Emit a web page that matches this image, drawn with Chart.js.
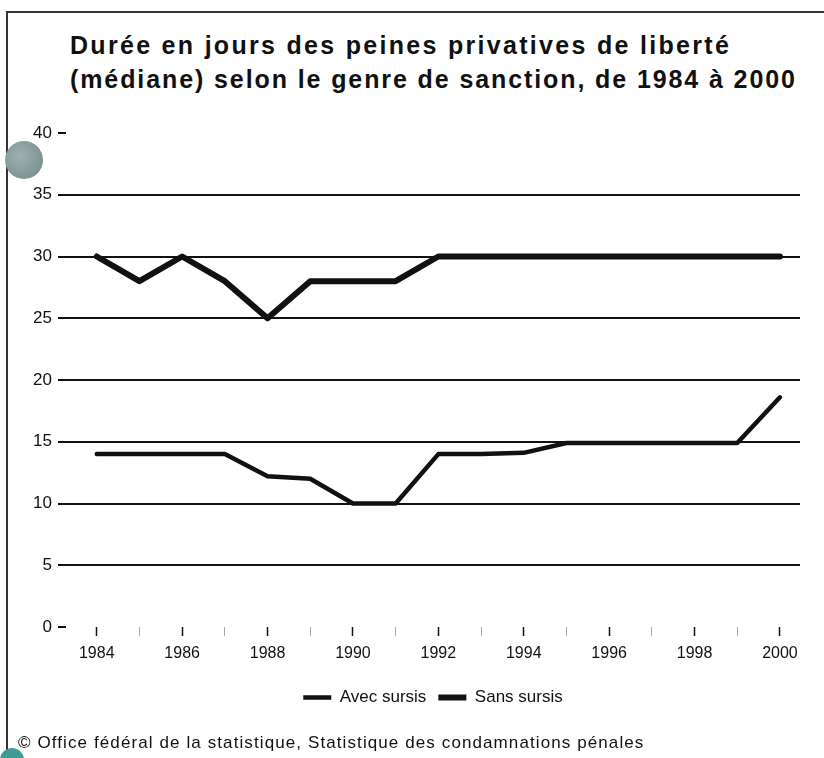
<!DOCTYPE html>
<html>
<head>
<meta charset="utf-8">
<script src="https://cdn.jsdelivr.net/npm/chart.js@4.4.1/dist/chart.umd.min.js"></script>
<style>
  html, body { margin: 0; padding: 0; background: #fff; }
  #page { position: relative; width: 824px; height: 758px; overflow: hidden; font-family: "Liberation Sans", Arial, sans-serif; color: #111; }
  #frame { position: absolute; left: 6px; top: 11px; width: 830px; height: 760px; border-left: 2px solid #333; border-top: 2px solid #333; }
  #title { position: absolute; left: 70px; top: 28px; font-size: 25px; font-weight: bold; line-height: 34px; white-space: nowrap; }
  #title .l1 { letter-spacing: 2.3px; }
  #title .l2 { letter-spacing: 1.9px; }
  #source { position: absolute; left: 18px; top: 733px; font-size: 17px; letter-spacing: 1.1px; white-space: nowrap; }
  #hole { position: absolute; left: 5px; top: 141px; width: 38px; height: 38px; border-radius: 50%; background: radial-gradient(circle at 40% 40%, #9fb1b0, #6f8886); }
  #hole2 { position: absolute; left: 0px; top: 748px; width: 24px; height: 24px; border-radius: 50%; background: #3f9c95; }
  canvas { position: absolute; left: 0; top: 0; }
</style>
</head>
<body>
<div id="page">
  <div id="frame"></div>
  <div id="hole"></div>
  <div id="hole2"></div>
  <div id="title"><span class="l1">Durée en jours des peines privatives de liberté</span><br><span class="l2">(médiane) selon le genre de sanction, de 1984 à 2000</span></div>
  <canvas id="chart" width="824" height="758"></canvas>
  <div id="source">© Office fédéral de la statistique, Statistique des condamnations pénales</div>
</div>
<script>
// median duration in days
const years = [1984, 1985, 1986, 1987, 1988, 1989, 1990, 1991, 1992, 1993, 1994, 1995, 1996, 1997, 1998, 1999, 2000];
const avecSursis = [14, 14, 14, 14, 12.2, 12, 10, 10, 14, 14, 14.1, 14.9, 14.9, 14.9, 14.9, 14.9, 18.6];
const sansSursis = [30, 28, 30, 28, 25, 28, 28, 28, 30, 30, 30, 30, 30, 30, 30, 30, 30];
const yTicks = [0, 5, 10, 15, 20, 25, 30, 35, 40];

const toPoints = vals => vals.map((v, i) => ({ x: years[i], y: v }));
const font = "'Liberation Sans', Arial, sans-serif";
const isMajor = c => c.tick && c.tick.value % 2 === 0;

new Chart(document.getElementById("chart"), {
  type: "line",
  data: {
    datasets: [
      {
        label: "Avec sursis",
        data: toPoints(avecSursis),
        borderColor: "#111",
        borderWidth: 4.5,
        pointRadius: 0,
        tension: 0,
        borderJoinStyle: "round",
        borderCapStyle: "round"
      },
      {
        label: "Sans sursis",
        data: toPoints(sansSursis),
        borderColor: "#111",
        borderWidth: 6,
        pointRadius: 0,
        tension: 0,
        borderJoinStyle: "round",
        borderCapStyle: "round"
      }
    ]
  },
  options: {
    responsive: false,
    animation: false,
    layout: { padding: { left: 0, right: 24, top: 133, bottom: 42 } },
    plugins: {
      title: { display: false },
      tooltip: { enabled: false },
      legend: {
        position: "bottom",
        fullSize: false,
        labels: {
          usePointStyle: true,
          pointStyle: "line",
          pointStyleWidth: 28,
          color: "#111",
          font: { family: font, size: 17 },
          padding: 12
        }
      }
    },
    scales: {
      x: {
        type: "linear",
        min: 1983.28,
        max: 2000.47,
        afterBuildTicks: s => { s.ticks = years.map(y => ({ value: y })); },
        afterFit: s => { s.height = 50; },
        border: { display: false },
        grid: {
          drawOnChartArea: false,
          drawTicks: true,
          tickLength: 9,
          tickColor: c => isMajor(c) ? "#111" : "#aaa",
          tickWidth: c => isMajor(c) ? 1.5 : 1
        },
        ticks: {
          autoSkip: false,
          maxRotation: 0,
          padding: 8,
          color: "#111",
          font: { family: font, size: 16 },
          callback: v => v % 2 === 0 ? String(v) : ""
        }
      },
      y: {
        min: 0,
        max: 40,
        afterBuildTicks: s => { s.ticks = yTicks.map(v => ({ value: v })); },
        afterFit: s => { s.width = 66; },
        border: { display: false },
        grid: {
          color: c => (c.tick && (c.tick.value === 0 || c.tick.value === 40)) ? "rgba(0,0,0,0)" : "#111",
          lineWidth: 2,
          tickColor: "#111",
          tickLength: 8
        },
        ticks: {
          padding: 6,
          color: "#111",
          font: { family: font, size: 17 }
        }
      }
    }
  }
});
</script>
</body>
</html>
